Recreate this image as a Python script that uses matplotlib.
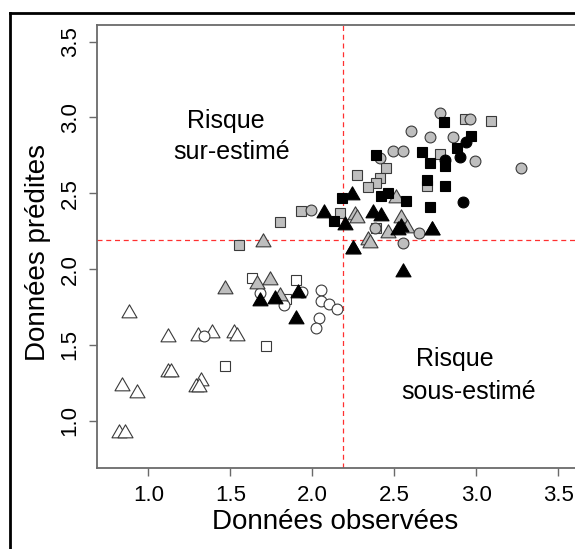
import matplotlib.pyplot as plt
from matplotlib.lines import Line2D
from matplotlib.path import Path

plt.rcParams['font.family'] = ['Liberation Sans', 'DejaVu Sans']

# seuils (lignes rouges)
seuil_obs = 2.185
seuil_pred = 2.19

# triangles blancs
tri_blanc_x = [0.88, 1.12, 1.30, 1.39, 1.52, 1.54, 1.12, 1.14, 1.32, 1.29, 1.31, 0.84, 0.93, 0.82, 0.86]
tri_blanc_y = [1.71, 1.55, 1.56, 1.58, 1.58, 1.56, 1.32, 1.32, 1.26, 1.22, 1.22, 1.23, 1.18, 0.92, 0.92]
# carres blancs
car_blanc_x = [1.63, 1.90, 1.84, 1.72, 1.47]
car_blanc_y = [1.94, 1.93, 1.80, 1.49, 1.36]
# cercles blancs
cer_blanc_x = [1.34, 1.68, 1.83, 1.94, 2.05, 2.05, 2.10, 2.15, 2.04, 2.02]
cer_blanc_y = [1.56, 1.84, 1.76, 1.85, 1.86, 1.79, 1.77, 1.74, 1.68, 1.61]

# triangles gris
tri_gris_x = [1.70, 1.66, 1.74, 1.47, 1.80, 2.51, 2.26, 2.27, 2.54, 2.58, 2.46, 2.34, 2.35, 2.25, 2.73]
tri_gris_y = [2.18, 1.90, 1.93, 1.87, 1.82, 2.47, 2.36, 2.34, 2.34, 2.27, 2.24, 2.19, 2.17, 2.13, 2.26]
# carres gris
car_gris_x = [1.55, 1.80, 1.93, 2.17, 2.27, 2.45, 2.41, 2.39, 2.34, 2.70, 2.78, 2.93, 3.09, 2.39]
car_gris_y = [2.16, 2.31, 2.38, 2.37, 2.62, 2.67, 2.60, 2.57, 2.54, 2.55, 2.76, 2.99, 2.98, 2.27]
# cercles gris
cer_gris_x = [1.99, 2.38, 2.65, 2.55, 2.41, 2.49, 2.55, 2.60, 2.72, 2.78, 2.86, 2.96, 2.99, 3.27]
cer_gris_y = [2.39, 2.27, 2.24, 2.17, 2.73, 2.78, 2.78, 2.91, 2.87, 3.03, 2.87, 2.99, 2.71, 2.67]

# triangles noirs
tri_noir_x = [2.07, 2.24, 2.20, 2.37, 2.42, 2.54, 2.52, 2.73, 2.25, 2.55, 1.68, 1.77, 1.91, 1.90]
tri_noir_y = [2.37, 2.49, 2.29, 2.37, 2.35, 2.28, 2.26, 2.26, 2.13, 1.98, 1.79, 1.80, 1.84, 1.67]
# carres noirs
car_noir_x = [2.80, 2.97, 2.88, 2.39, 2.67, 2.72, 2.81, 2.70, 2.81, 2.46, 2.42, 2.57, 2.72, 2.18, 2.13]
car_noir_y = [2.97, 2.88, 2.80, 2.75, 2.77, 2.70, 2.68, 2.59, 2.55, 2.50, 2.48, 2.45, 2.41, 2.47, 2.32]
# cercles noirs
cer_noir_x = [2.94, 2.90, 2.81, 2.92]
cer_noir_y = [2.84, 2.74, 2.72, 2.44]

ticks = [1.0, 1.5, 2.0, 2.5, 3.0, 3.5]

W, H = 575, 549
fig = plt.figure(figsize=(W / 100, H / 100), dpi=100)
# zone du graphique (depasse a droite comme sur l'original)
ax = fig.add_axes([97.3 / W, (H - 468) / H, (600 - 97.3) / W, (468 - 25) / H])
ax.set_xlim(0.689, 3.754)
ax.set_ylim(0.688, 3.61)

# triangle equilateral ferme (comme pch=24 de R)
tri = Path([(0, 1), (-0.866, -0.5), (0.866, -0.5), (0, 1)],
           [Path.MOVETO, Path.LINETO, Path.LINETO, Path.CLOSEPOLY])
tri_ms = 12.5
car_ms = 7.6
cer_ms = 7.8

def nuage(x, y, marker, ms, fill, edge):
    ax.plot(x, y, linestyle='none', marker=marker, markersize=ms,
            markerfacecolor=fill, markeredgecolor=edge, markeredgewidth=0.8)

nuage(tri_blanc_x, tri_blanc_y, tri, tri_ms, 'white', '#3a3a3a')
nuage(car_blanc_x, car_blanc_y, 's', car_ms, 'white', '#3a3a3a')
nuage(cer_blanc_x, cer_blanc_y, 'o', cer_ms, 'white', '#3a3a3a')
nuage(tri_gris_x, tri_gris_y, tri, tri_ms, '#bebebe', '#3a3a3a')
nuage(car_gris_x, car_gris_y, 's', car_ms, '#bebebe', '#3a3a3a')
nuage(cer_gris_x, cer_gris_y, 'o', cer_ms, '#bebebe', '#3a3a3a')
nuage(tri_noir_x, tri_noir_y, tri, tri_ms, 'black', 'black')
nuage(car_noir_x, car_noir_y, 's', car_ms, 'black', 'black')
nuage(cer_noir_x, cer_noir_y, 'o', cer_ms, 'black', 'black')

ax.axvline(seuil_obs, color='#ff3030', lw=0.9, dashes=(4, 3), zorder=0)
ax.axhline(seuil_pred, color='#ff3030', lw=0.9, dashes=(4, 3), zorder=0)

ax.text(1.47, 2.975, 'Risque', fontsize=18, ha='center', va='center')
ax.text(1.51, 2.775, 'sur-estimé', fontsize=18, ha='center', va='center')
ax.text(2.87, 1.41, 'Risque', fontsize=18, ha='center', va='center')
ax.text(2.95, 1.19, 'sous-estimé', fontsize=18, ha='center', va='center')

for s in ['left', 'top', 'bottom']:
    ax.spines[s].set_color('#6a6a6a')
    ax.spines[s].set_linewidth(1.3)
ax.spines['right'].set_visible(False)

ax.set_xticks(ticks)
ax.set_yticks(ticks)
ax.set_xticklabels([f'{t:.1f}' for t in ticks])
ax.set_yticklabels([f'{t:.1f}' for t in ticks], rotation=90, va='center')
ax.tick_params(length=6, width=1, color='#6a6a6a', labelsize=16, pad=6)

fig.text(335 / W, 1 - 522 / H, 'Données observées', fontsize=20, ha='center', va='center')
fig.text(38 / W, 1 - 252 / H, 'Données prédites', fontsize=20, ha='center', va='center', rotation=90)

# cadre noir exterieur
fig.add_artist(Line2D([10 / W, 10 / W], [0, 1 - 12.7 / H], color='black', lw=2, transform=fig.transFigure))
fig.add_artist(Line2D([10 / W, 1], [1 - 12.7 / H, 1 - 12.7 / H], color='black', lw=2, transform=fig.transFigure))

fig.savefig('out.png', dpi=100)
